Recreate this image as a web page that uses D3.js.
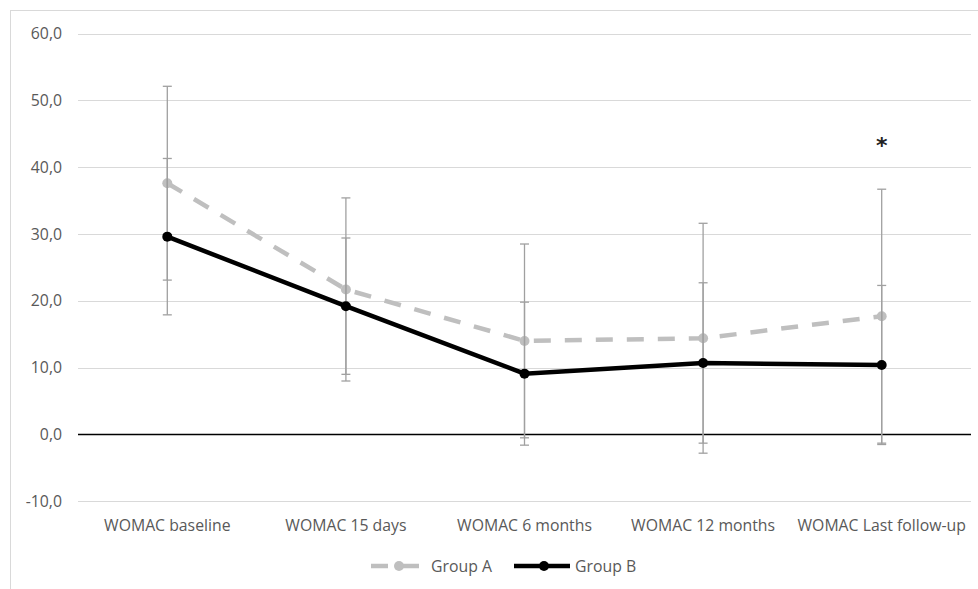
<!DOCTYPE html>
<html><head><meta charset="utf-8">
<script src="https://cdn.jsdelivr.net/npm/d3@7"></script>
<style>html,body{margin:0;padding:0;background:#fff;}svg{display:block;}</style>
</head><body>
<svg id="c" width="978" height="589"></svg>
<script>
const categories = ["WOMAC baseline","WOMAC 15 days","WOMAC 6 months","WOMAC 12 months","WOMAC Last follow-up"];
const groupA = [37.6, 21.7, 14.0, 14.4, 17.7];
const groupAsd = [14.5, 13.7, 14.5, 17.2, 19.0];
const groupB = [29.6, 19.2, 9.1, 10.7, 10.4];
const groupBsd = [11.7, 10.2, 10.7, 12.0, 11.9];
const yTicks = [-10, 0, 10, 20, 30, 40, 50, 60];
const significant = [false, false, false, false, true];

(function(){
const svg = d3.select("#c");
const FONT = "'Open Sans', 'Noto Sans', sans-serif";
const FS = 15.8;
const pLeft = 78, pRight = 971, pTop = 33.5, pBottom = 501.3;

svg.append("rect").attr("x",10.5).attr("y",10.5).attr("width",1100).attr("height",700)
  .attr("fill","none").attr("stroke","#d9d9d9").attr("stroke-width",1);

const x = d3.scaleBand().domain(categories).range([pLeft, pRight]);
const y = d3.scaleLinear().domain([-10, 60]).range([pBottom, pTop]);

svg.append("g").selectAll("line").data(yTicks.filter(d=>d!==0)).join("line")
  .attr("x1",pLeft).attr("x2",pRight)
  .attr("y1",d=>Math.round(y(d))+0.5).attr("y2",d=>Math.round(y(d))+0.5)
  .attr("stroke","#d9d9d9").attr("stroke-width",1);

const yAxis = d3.axisLeft(y).tickValues(yTicks).tickSize(0).tickPadding(0)
  .tickFormat(d => d3.format(".1f")(d).replace(".", ",").replace("−","-"));
const ya = svg.append("g").attr("transform",`translate(62,0)`).call(yAxis);
ya.select(".domain").remove();
ya.selectAll("text").attr("font-family",FONT).attr("font-size",FS).attr("fill","#595959");

svg.append("line").attr("x1",pLeft).attr("x2",pRight).attr("y1",y(0)).attr("y2",y(0))
  .attr("stroke","#000").attr("stroke-width",1.6);

const xAxis = d3.axisBottom(x).tickSize(0).tickPadding(0);
const xa = svg.append("g").attr("transform",`translate(0,519)`).call(xAxis);
xa.select(".domain").remove();
xa.selectAll("text").attr("font-family",FONT).attr("font-size",FS).attr("fill","#595959").attr("dy","0.75em");

const cx = d => x(d) + x.bandwidth()/2;
const line = d3.line().x((d,i)=>cx(categories[i])).y(d=>y(d));

function errorBars(vals, sds){
  const g = svg.append("g").attr("stroke","#a0a0a0").attr("stroke-width",1.3);
  vals.forEach((v,i)=>{
    const xx = cx(categories[i]);
    g.append("line").attr("x1",xx).attr("x2",xx).attr("y1",y(v+sds[i])).attr("y2",y(v-sds[i]));
    [v+sds[i], v-sds[i]].forEach(e=>{
      g.append("line").attr("x1",xx-4.5).attr("x2",xx+4.5).attr("y1",y(e)).attr("y2",y(e));
    });
  });
}

svg.append("path").datum(groupA).attr("d",line).attr("fill","none")
  .attr("stroke","#bfbfbf").attr("stroke-width",4.5).attr("stroke-dasharray","17,14");
svg.append("g").selectAll("circle").data(groupA).join("circle")
  .attr("cx",(d,i)=>cx(categories[i])).attr("cy",d=>y(d)).attr("r",5).attr("fill","#bfbfbf");
errorBars(groupA, groupAsd);
errorBars(groupB, groupBsd);
svg.append("path").datum(groupB).attr("d",line).attr("fill","none")
  .attr("stroke","#000").attr("stroke-width",4.5);
svg.append("g").selectAll("circle").data(groupB).join("circle")
  .attr("cx",(d,i)=>cx(categories[i])).attr("cy",d=>y(d)).attr("r",5).attr("fill","#000");

svg.append("g").selectAll("text").data(categories.filter((c,i)=>significant[i])).join("text")
  .attr("x",d=>cx(d)).attr("y",153).attr("text-anchor","middle")
  .attr("font-family","'DejaVu Sans', sans-serif").attr("font-weight","bold").attr("font-size",22)
  .attr("fill","#222").text("*");

const lg = svg.append("g").attr("font-family",FONT).attr("font-size",FS).attr("fill","#595959");
const ly = 566;
lg.append("line").attr("x1",371).attr("x2",426).attr("y1",ly).attr("y2",ly)
  .attr("stroke","#bfbfbf").attr("stroke-width",4.5).attr("stroke-dasharray","17,14");
lg.append("circle").attr("cx",399).attr("cy",ly).attr("r",5).attr("fill","#bfbfbf");
lg.append("text").attr("x",431).attr("y",ly).attr("dy","0.35em").text("Group A");
lg.append("line").attr("x1",514).attr("x2",570).attr("y1",ly).attr("y2",ly)
  .attr("stroke","#000").attr("stroke-width",4.5);
lg.append("circle").attr("cx",544).attr("cy",ly).attr("r",5).attr("fill","#000");
lg.append("text").attr("x",575).attr("y",ly).attr("dy","0.35em").text("Group B");
})();
</script>
</body></html>
